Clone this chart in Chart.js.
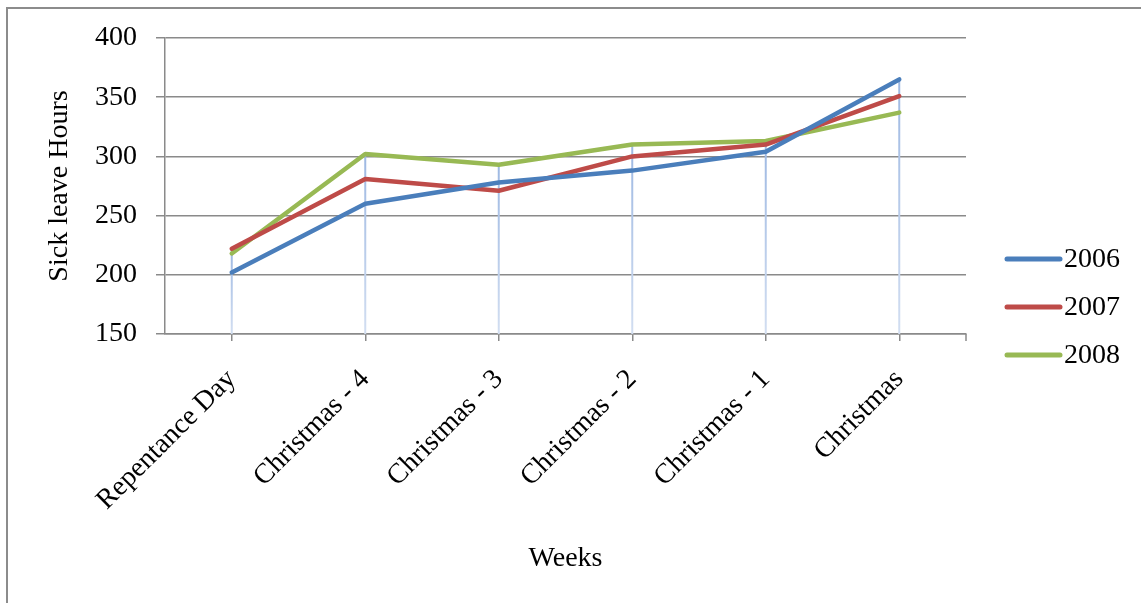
<!DOCTYPE html>
<html>
<head>
<meta charset="utf-8">
<script src="https://cdn.jsdelivr.net/npm/chart.js@4/dist/chart.umd.min.js"></script>
<style>
  html, body { margin: 0; padding: 0; background: #fff; }
  #wrap { width: 1141px; height: 603px; }
</style>
</head>
<body>
<div id="wrap"><canvas id="chart" width="1141" height="603"></canvas></div>
<script>
const weeks = ['Repentance Day', 'Christmas - 4', 'Christmas - 3', 'Christmas - 2', 'Christmas - 1', 'Christmas'];
const hours2006 = [202, 260, 278, 288, 304, 365];
const hours2007 = [222, 281, 271, 300, 310, 351];
const hours2008 = [218, 302, 293, 310, 313, 337];
const yearLabels = ['2006', '2007', '2008'];
const yearColors = ['#4a7ebb', '#be4b48', '#98b954'];

const serif = 'Liberation Serif, Times New Roman, serif';
const gridColor = '#8a8a8a';

// outer frame + drop lines from the highest point of each week down to the axis
const dropLines = {
  id: 'dropLines',
  beforeDraw(chart) {
    const ctx = chart.ctx;
    ctx.save();
    ctx.strokeStyle = '#8c8c8c';
    ctx.lineWidth = 2;
    ctx.strokeRect(7, 8, 2000, 2000);
    ctx.restore();
  },
  beforeDatasetsDraw(chart) {
    const { ctx, chartArea, scales } = chart;
    ctx.save();
    ctx.lineWidth = 2;
    weeks.forEach((w, i) => {
      const top = Math.max(...chart.data.datasets.map(d => d.data[i]));
      const x = scales.x.getPixelForValue(i);
      const y = scales.y.getPixelForValue(top);
      const grad = ctx.createLinearGradient(0, y, 0, chartArea.bottom);
      grad.addColorStop(0, '#9db8e2');
      grad.addColorStop(1, '#d2def1');
      ctx.strokeStyle = grad;
      ctx.beginPath();
      ctx.moveTo(x, y);
      ctx.lineTo(x, chartArea.bottom);
      ctx.stroke();
    });
    // closing tick at the right end of the category axis
    ctx.strokeStyle = gridColor;
    ctx.lineWidth = 1.5;
    ctx.beginPath();
    ctx.moveTo(chartArea.right, chartArea.bottom);
    ctx.lineTo(chartArea.right, chartArea.bottom + 7);
    ctx.stroke();
    ctx.restore();
  },
  afterDraw(chart) {
    // legend on the right
    const ctx = chart.ctx;
    ctx.save();
    ctx.font = '28px ' + serif;
    ctx.textBaseline = 'middle';
    ctx.fillStyle = '#000';
    chart.data.datasets.forEach((d, i) => {
      const y = 259 + i * 48;
      ctx.strokeStyle = d.borderColor;
      ctx.lineWidth = 5;
      ctx.lineCap = 'round';
      ctx.beginPath();
      ctx.moveTo(1007, y);
      ctx.lineTo(1060, y);
      ctx.stroke();
      ctx.fillText(d.label, 1064, y + 1);
    });
    ctx.restore();
  }
};

const seriesData = [hours2006, hours2007, hours2008];

new Chart(document.getElementById('chart'), {
  type: 'line',
  data: {
    labels: weeks,
    datasets: seriesData.map((data, i) => ({
      label: yearLabels[i],
      data,
      borderColor: yearColors[i],
      backgroundColor: yearColors[i],
      borderWidth: 4.5,
      borderCapStyle: 'round',
      borderJoinStyle: 'round',
      pointRadius: 0,
      tension: 0,
    })),
  },
  options: {
    responsive: false,
    animation: false,
    layout: { padding: { left: 0, top: 38, right: 175, bottom: 0 } },
    plugins: {
      legend: { display: false },
      tooltip: { enabled: false },
    },
    scales: {
      x: {
        offset: true,
        afterFit: (s) => { s.height = 269; },
        border: { color: gridColor, width: 1.5 },
        grid: {
          offset: false,
          drawOnChartArea: false,
          color: gridColor,
          lineWidth: 1.5,
          tickLength: 7,
        },
        ticks: {
          minRotation: 45,
          maxRotation: 45,
          padding: 22,
          color: '#000',
          font: { family: serif, size: 28 },
        },
        title: {
          display: true,
          text: 'Weeks',
          color: '#000',
          font: { family: serif, size: 28 },
          padding: { top: 0, bottom: 28 },
        },
      },
      y: {
        min: 150,
        max: 400,
        afterFit: (s) => { s.width = 165; },
        border: { color: gridColor, width: 1.5 },
        grid: { color: gridColor, lineWidth: 1.5, tickLength: 9 },
        ticks: {
          stepSize: 50,
          padding: 19,
          color: '#000',
          font: { family: serif, size: 28 },
        },
        title: {
          display: true,
          text: 'Sick leave Hours',
          color: '#000',
          font: { family: serif, size: 28 },
          padding: { top: 43, bottom: 0 },
        },
      },
    },
  },
  plugins: [dropLines],
});
</script>
</body>
</html>
